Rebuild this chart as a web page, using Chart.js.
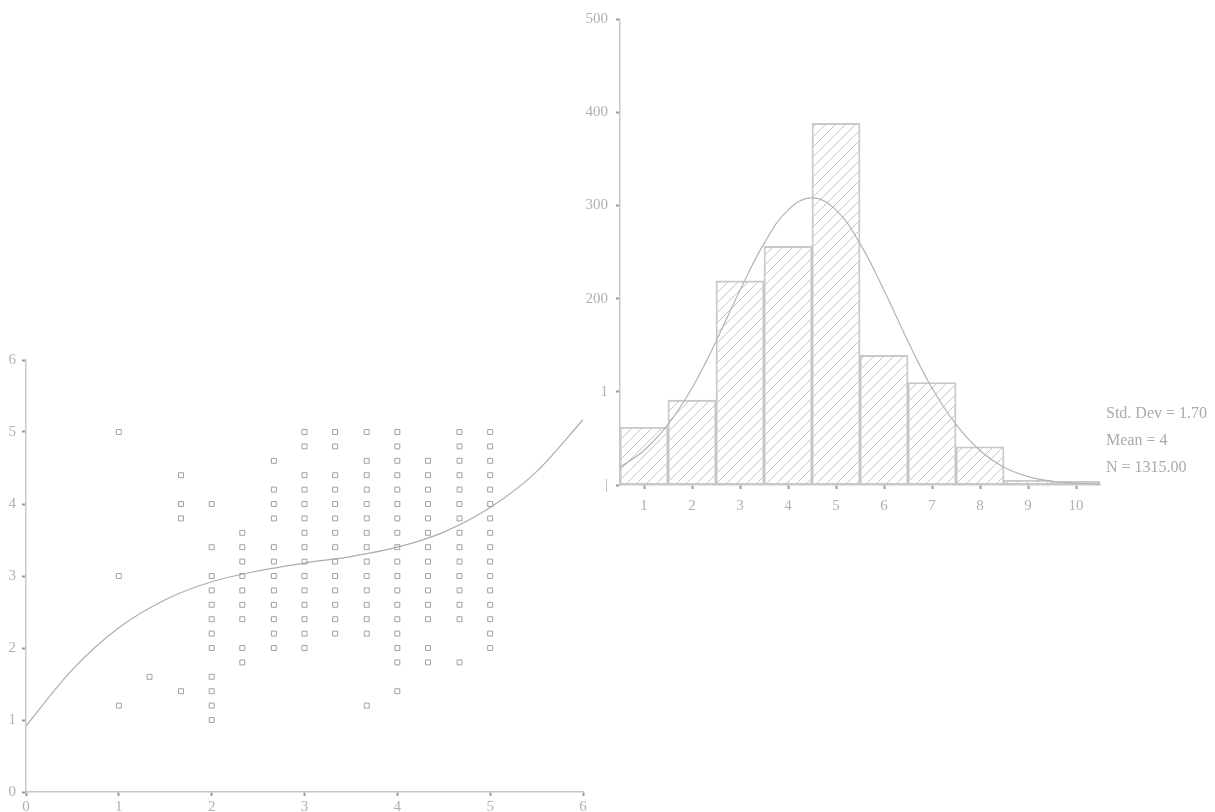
<!DOCTYPE html>
<html>
<head>
<meta charset="utf-8">
<script src="https://cdn.jsdelivr.net/npm/chart.js@4/dist/chart.umd.min.js"></script>
<style>
  body { margin: 0; background: #fff; width: 1215px; height: 812px; position: relative; overflow: hidden; }
  #scatterBox { position: absolute; left: 0; top: 340px; width: 600px; height: 472px; }
  #histBox { position: absolute; left: 570px; top: 0; width: 560px; height: 520px; }
  .stat { position: absolute; left: 1106px; font: 16px "Liberation Serif", serif; color: #aaa; white-space: nowrap; }
</style>
</head>
<body>
<div id="scatterBox"><canvas id="scatterChart"></canvas></div>
<div id="histBox"><canvas id="histChart"></canvas></div>
<div class="stat" style="top:404px">Std. Dev = 1.70</div>
<div class="stat" style="top:431px">Mean = 4</div>
<div class="stat" style="top:458px">N = 1315.00</div>

<script>
// scatter: one column of y values per x position
const colX = [1, 1.33, 1.67, 2, 2.33, 2.67, 3, 3.33, 3.67, 4, 4.33, 4.67, 5];
const colY = [
    [5.0, 3.0, 1.2],
    [1.6],
    [4.4, 4.0, 3.8, 1.4],
    [4.0, 3.4, 3.0, 2.8, 2.6, 2.4, 2.2, 2.0, 1.6, 1.4, 1.2, 1.0],
    [3.6, 3.4, 3.2, 3.0, 2.8, 2.6, 2.4, 2.0, 1.8],
    [4.6, 4.2, 4.0, 3.8, 3.4, 3.2, 3.0, 2.8, 2.6, 2.4, 2.2, 2.0],
    [5.0, 4.8, 4.4, 4.2, 4.0, 3.8, 3.6, 3.4, 3.2, 3.0, 2.8, 2.6, 2.4, 2.2, 2.0],
    [5.0, 4.8, 4.4, 4.2, 4.0, 3.8, 3.6, 3.4, 3.2, 3.0, 2.8, 2.6, 2.4, 2.2],
    [5.0, 4.6, 4.4, 4.2, 4.0, 3.8, 3.6, 3.4, 3.2, 3.0, 2.8, 2.6, 2.4, 2.2, 1.2],
    [5.0, 4.8, 4.6, 4.4, 4.2, 4.0, 3.8, 3.6, 3.4, 3.2, 3.0, 2.8, 2.6, 2.4, 2.2, 2.0, 1.8, 1.4],
    [4.6, 4.4, 4.2, 4.0, 3.8, 3.6, 3.4, 3.2, 3.0, 2.8, 2.6, 2.4, 2.0, 1.8],
    [5.0, 4.8, 4.6, 4.4, 4.2, 4.0, 3.8, 3.6, 3.4, 3.2, 3.0, 2.8, 2.6, 2.4, 1.8],
    [5.0, 4.8, 4.6, 4.4, 4.2, 4.0, 3.8, 3.6, 3.4, 3.2, 3.0, 2.8, 2.6, 2.4, 2.2, 2.0]
];
// fitted curve
const fitX = [0, 0.5, 1, 1.5, 2, 2.5, 3, 3.5, 4, 4.5, 5, 5.5, 6];
const fitY = [0.92, 1.70, 2.28, 2.67, 2.92, 3.07, 3.18, 3.27, 3.40, 3.61, 3.95, 4.45, 5.17];
const scatterTicks = [0, 1, 2, 3, 4, 5, 6];

// histogram
const binLabels = [1, 2, 3, 4, 5, 6, 7, 8, 9, 10];
const binCounts = [62, 91, 219, 256, 388, 139, 110, 41, 5, 4];
const normX = [0.5, 1, 1.5, 2, 2.5, 3, 3.5, 4, 4.5, 5, 5.5, 6, 6.5, 7, 7.5, 8, 8.5, 9, 9.5, 10, 10.5];
const normY = [19, 37, 65, 104, 154, 209, 259, 295, 308, 295, 259, 209, 154, 104, 65, 37, 19, 9, 4, 2, 1];
const histYTicks = [0, 100, 200, 300, 400, 500];
const histYText = ['|', '1', '200', '300', '400', '500'];

const FONT = { family: '"Liberation Serif", serif', size: 15 };
const TXT = '#b0b0b0';
const AXIS = '#c8c8c8';

function scatterPoints() {
    const pts = [];
    colX.forEach((x, i) => colY[i].forEach(y => pts.push({ x: x, y: y })));
    return pts;
}

function hatchPattern() {
    const n = 10;
    const c = document.createElement('canvas');
    c.width = n; c.height = n;
    const g = c.getContext('2d');
    g.strokeStyle = '#c4c4c4';
    g.lineWidth = 1;
    g.beginPath();
    g.moveTo(0, n); g.lineTo(n, 0);
    g.moveTo(-2, 2); g.lineTo(2, -2);
    g.moveTo(n - 2, n + 2); g.lineTo(n + 2, n - 2);
    g.stroke();
    return g.createPattern(c, 'repeat');
}

function axisGrid() {
    return { display: true, drawOnChartArea: false, drawTicks: true, tickLength: 4, tickWidth: 2, tickColor: '#9a9a9a' };
}

new Chart(document.getElementById('scatterChart').getContext('2d'), {
    type: 'scatter',
    data: {
        datasets: [{
            data: scatterPoints(),
            pointStyle: 'rect',
            pointRadius: 3.5,
            borderColor: '#a0a0a0',
            backgroundColor: 'rgba(0,0,0,0)',
            borderWidth: 1
        }, {
            type: 'line',
            data: fitX.map((x, i) => ({ x: x, y: fitY[i] })),
            borderColor: '#adadad',
            borderWidth: 1.2,
            pointRadius: 0,
            cubicInterpolationMode: 'monotone',
            fill: false
        }]
    },
    options: {
        responsive: true, maintainAspectRatio: false, animation: false,
        layout: { padding: { top: 20, right: 17, left: 0, bottom: 0 } },
        plugins: { legend: { display: false }, tooltip: { enabled: false } },
        scales: {
            x: { type: 'linear', min: 0, max: 6,
                 afterBuildTicks: s => { s.ticks = scatterTicks.map(v => ({ value: v })); },
                 afterFit: s => { s.height = 20; },
                 grid: axisGrid(), border: { color: AXIS, width: 1.5 },
                 ticks: { color: TXT, font: FONT, padding: 2, maxRotation: 0 } },
            y: { min: 0, max: 6,
                 afterBuildTicks: s => { s.ticks = scatterTicks.map(v => ({ value: v })); },
                 afterFit: s => { s.width = 26; },
                 grid: axisGrid(), border: { color: AXIS, width: 1.5 },
                 ticks: { color: TXT, font: FONT, padding: 6 } }
        }
    }
});

new Chart(document.getElementById('histChart').getContext('2d'), {
    type: 'bar',
    data: {
        datasets: [{
            type: 'line',
            data: normX.map((x, i) => ({ x: x, y: normY[i] })),
            borderColor: '#b4b4b4',
            borderWidth: 1.2,
            pointRadius: 0,
            tension: 0.4,
            fill: false,
            order: 0
        }, {
            data: binLabels.map((x, i) => ({ x: x, y: binCounts[i] })),
            backgroundColor: hatchPattern(),
            borderColor: '#c8c8c8',
            borderWidth: 1.2,
            borderSkipped: false,
            barPercentage: 1,
            categoryPercentage: 1,
            order: 1
        }]
    },
    options: {
        responsive: true, maintainAspectRatio: false, animation: false,
        layout: { padding: { top: 19, right: 30, left: 0, bottom: 0 } },
        plugins: { legend: { display: false }, tooltip: { enabled: false } },
        scales: {
            x: { type: 'linear', min: 0.5, max: 10.5, offset: false,
                 afterBuildTicks: s => { s.ticks = binLabels.map(v => ({ value: v })); },
                 afterFit: s => { s.height = 35; },
                 grid: Object.assign(axisGrid(), { offset: false }), border: { color: AXIS, width: 1.5 },
                 ticks: { color: TXT, font: FONT, padding: 8, maxRotation: 0 } },
            y: { min: 0, max: 500,
                 afterBuildTicks: s => { s.ticks = histYTicks.map(v => ({ value: v })); },
                 afterFit: s => { s.width = 50; },
                 grid: axisGrid(), border: { color: AXIS, width: 1.5 },
                 ticks: { color: TXT, font: FONT, padding: 8,
                          callback: v => histYText[histYTicks.indexOf(v)] } }
        }
    }
});
</script>
</body>
</html>
